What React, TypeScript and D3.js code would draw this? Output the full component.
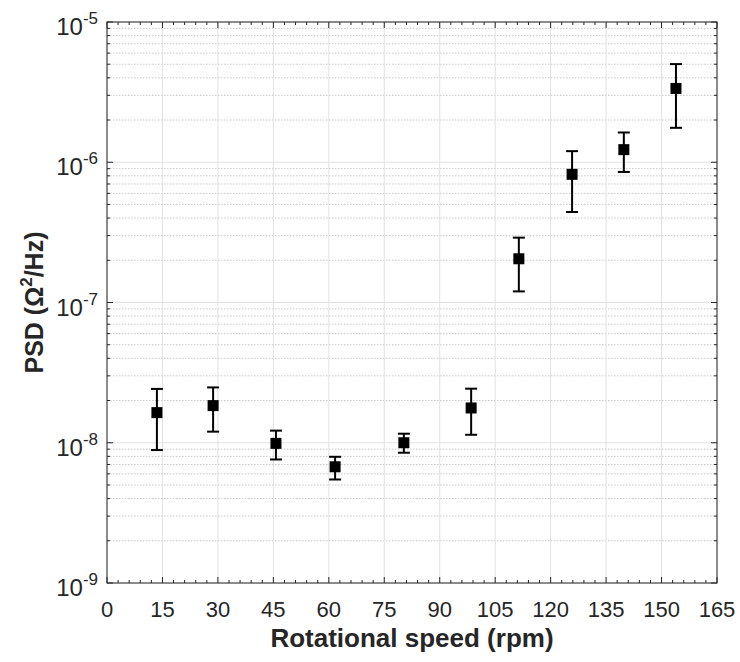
import React from 'react';
import * as d3 from 'd3';

// rotational speed (rpm) and PSD with error bar ends
const speeds = [13.5, 28.7, 45.7, 61.7, 80.3, 98.5, 111.4, 125.8, 139.8, 153.9];
const psd = [1.64e-8, 1.84e-8, 9.9e-9, 6.74e-9, 1.0e-8, 1.77e-8, 2.05e-7, 8.2e-7, 1.23e-6, 3.36e-6];
const psdHigh = [2.42e-8, 2.48e-8, 1.22e-8, 7.94e-9, 1.16e-8, 2.43e-8, 2.9e-7, 1.2e-6, 1.63e-6, 5.01e-6];
const psdLow = [8.87e-9, 1.2e-8, 7.6e-9, 5.47e-9, 8.49e-9, 1.14e-8, 1.2e-7, 4.42e-7, 8.53e-7, 1.76e-6];

const xTicks = [0, 15, 30, 45, 60, 75, 90, 105, 120, 135, 150, 165];
const yDecades = [-9, -8, -7, -6, -5];

const W = 740, H = 662;
const left = 107, right = 717, top = 22, bottom = 583;
const axisColor = '#262626';
const font = 'Liberation Sans, Arial, sans-serif';

const App = () => {
    const x = d3.scaleLinear().domain([0, 165]).range([left, right]);
    const y = d3.scaleLog().domain([1e-9, 1e-5]).range([bottom, top]);

    const xMinor = d3.range(0, 166, 3).filter(v => v % 15 !== 0);
    const yMinor: number[] = [];
    yDecades.slice(0, -1).forEach(e => {
        for (let k = 2; k <= 9; k++) yMinor.push(k * Math.pow(10, e));
    });

    const data = speeds.map((s, i) => ({ s, v: psd[i], hi: psdHigh[i], lo: psdLow[i] }));

    return (
        <svg width={W} height={H} style={{ position: 'absolute', left: 0, top: 0, background: '#fff' }}>
            {/* grid */}
            {yMinor.map((v, i) => (
                <line key={'gm' + i} x1={left} x2={right} y1={y(v)} y2={y(v)}
                    stroke="#c8c8c8" strokeWidth={1} strokeDasharray="1.5 1.5" />
            ))}
            {yDecades.map(e => (
                <line key={'gy' + e} x1={left} x2={right} y1={y(Math.pow(10, e))} y2={y(Math.pow(10, e))}
                    stroke="#e2e2e2" strokeWidth={1} />
            ))}
            {xTicks.map(t => (
                <line key={'gx' + t} x1={x(t)} x2={x(t)} y1={top} y2={bottom}
                    stroke="#e2e2e2" strokeWidth={1} />
            ))}

            {/* box */}
            <rect x={left} y={top} width={right - left} height={bottom - top} fill="none" stroke={axisColor} strokeWidth={1} />

            {/* x ticks, inward on bottom and top */}
            {xTicks.map(t => (
                <g key={'xt' + t}>
                    <line x1={x(t)} x2={x(t)} y1={bottom} y2={bottom - 6} stroke={axisColor} />
                    <line x1={x(t)} x2={x(t)} y1={top} y2={top + 6} stroke={axisColor} />
                    <text x={x(t)} y={617} textAnchor="middle" fontFamily={font} fontSize={22} fill={axisColor}>{t}</text>
                </g>
            ))}
            {xMinor.map(t => (
                <g key={'xm' + t}>
                    <line x1={x(t)} x2={x(t)} y1={bottom} y2={bottom - 3} stroke={axisColor} />
                    <line x1={x(t)} x2={x(t)} y1={top} y2={top + 3} stroke={axisColor} />
                </g>
            ))}

            {/* y ticks, inward on left and right */}
            {yDecades.map(e => {
                const yy = y(Math.pow(10, e));
                return (
                    <g key={'yt' + e}>
                        <line x1={left} x2={left + 6} y1={yy} y2={yy} stroke={axisColor} />
                        <line x1={right} x2={right - 6} y1={yy} y2={yy} stroke={axisColor} />
                        <text x={98} y={yy + 13} textAnchor="end" fontFamily={font} fontSize={24} fill={axisColor}>
                            10<tspan fontSize={17} dy={-11}>{e}</tspan>
                        </text>
                    </g>
                );
            })}
            {yMinor.map((v, i) => (
                <g key={'ym' + i}>
                    <line x1={left} x2={left + 3} y1={y(v)} y2={y(v)} stroke={axisColor} />
                    <line x1={right} x2={right - 3} y1={y(v)} y2={y(v)} stroke={axisColor} />
                </g>
            ))}

            {/* error bars and markers */}
            {data.map((d, i) => (
                <g key={'pt' + i} stroke="#000" strokeWidth={2}>
                    <line x1={x(d.s)} x2={x(d.s)} y1={y(d.hi)} y2={y(d.lo)} />
                    <line x1={x(d.s) - 6} x2={x(d.s) + 6} y1={y(d.hi)} y2={y(d.hi)} />
                    <line x1={x(d.s) - 6} x2={x(d.s) + 6} y1={y(d.lo)} y2={y(d.lo)} />
                    <rect x={x(d.s) - 5.5} y={y(d.v) - 5.5} width={11} height={11} fill="#000" strokeWidth={0} />
                </g>
            ))}

            {/* axis titles */}
            <text x={(left + right) / 2} y={647} textAnchor="middle" fontFamily={font} fontSize={26} fontWeight="bold" fill={axisColor}>
                Rotational speed (rpm)
            </text>
            <text transform={`translate(43, ${(top + bottom) / 2}) rotate(-90)`} textAnchor="middle"
                fontFamily={font} fontSize={25} fontWeight="bold" fill={axisColor}>
                PSD (Ω<tspan fontSize={17} dy={-11}>2</tspan><tspan dy={11}>/Hz)</tspan>
            </text>
        </svg>
    );
};

export default App;
